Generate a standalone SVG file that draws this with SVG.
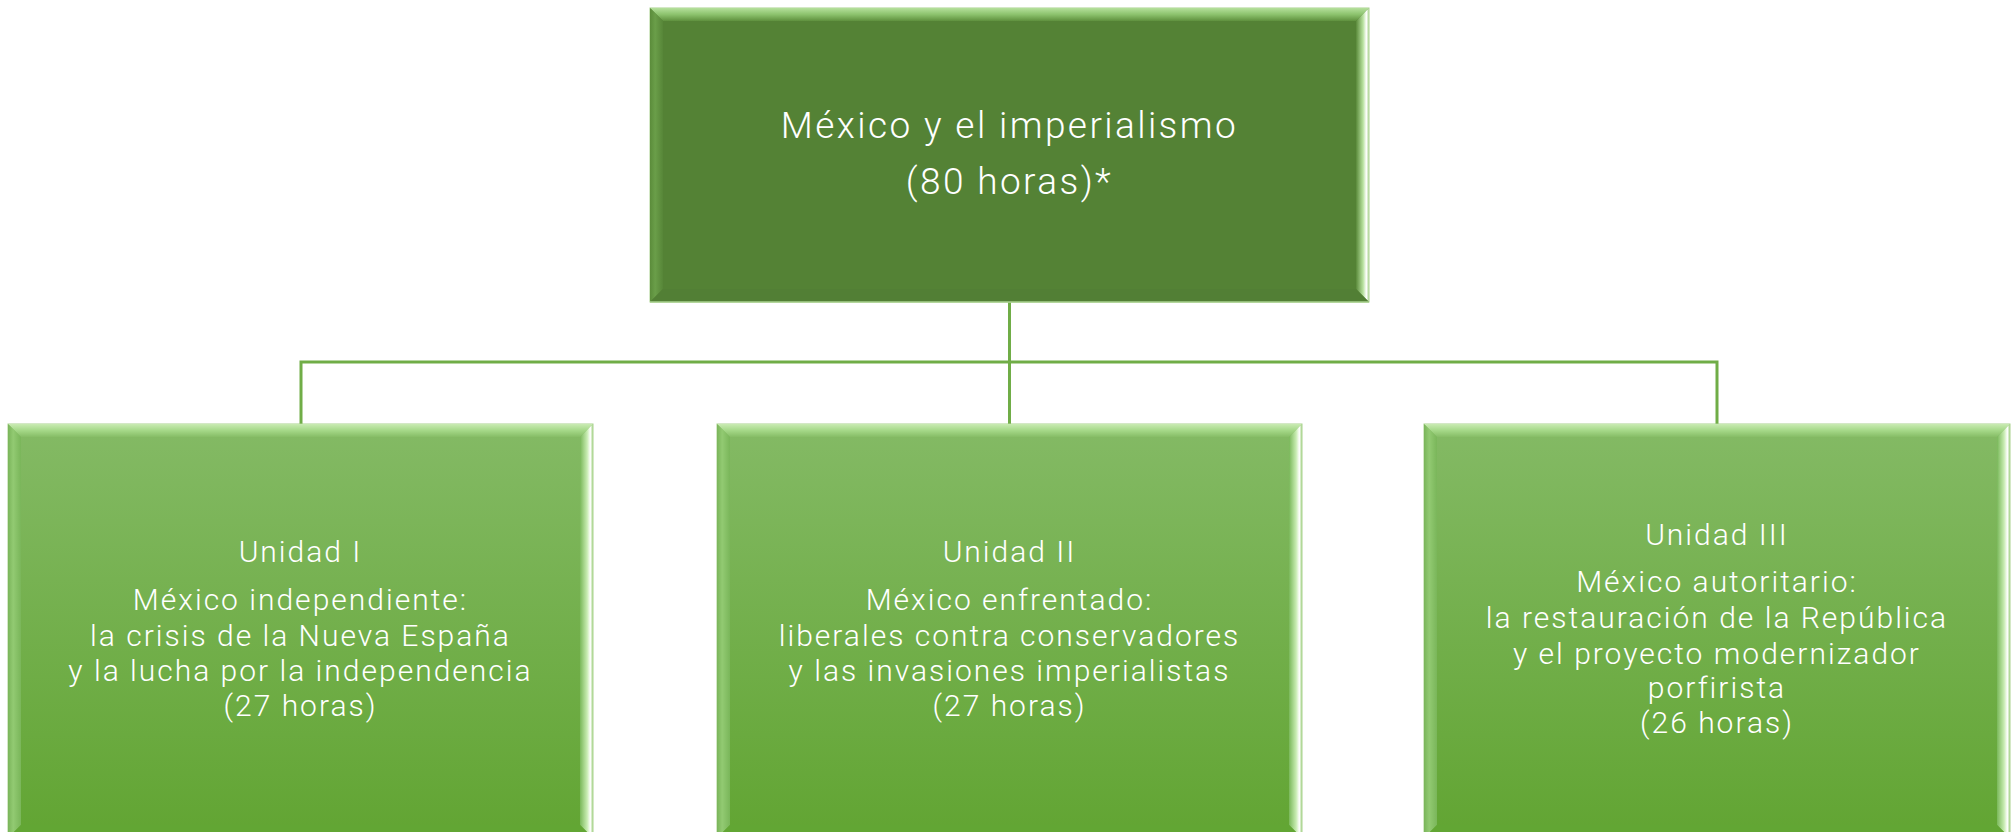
<svg xmlns="http://www.w3.org/2000/svg" width="2016" height="832" viewBox="0 0 2016 832">
<defs>
<style>
.t{font-family:Roboto,"Open Sans","Liberation Sans",sans-serif;font-weight:300;fill:#ffffff;text-anchor:middle}
.tt{font-size:37px;letter-spacing:2.4px}
.ct{font-size:30px;letter-spacing:2px}
.conn{stroke:#70ad47;stroke-width:3;fill:none}
</style>
<linearGradient id="childFill" x1="0" y1="424" x2="0" y2="832" gradientUnits="userSpaceOnUse">
<stop offset="0" stop-color="#84ba65"/>
<stop offset="1" stop-color="#62a533"/>
</linearGradient>
<linearGradient id="topBevelC" x1="0" y1="0" x2="0" y2="1">
<stop offset="0" stop-color="#c9ebb3"/>
<stop offset="0.5" stop-color="#a5d888"/>
<stop offset="1" stop-color="#86bd66"/>
</linearGradient>
<linearGradient id="rightBevelC" x1="0" y1="0" x2="1" y2="0">
<stop offset="0" stop-color="#7ab85a"/>
<stop offset="0.55" stop-color="#c8ecb2"/>
<stop offset="0.8" stop-color="#ffffff"/>
<stop offset="1" stop-color="#9fd080"/>
</linearGradient>
<linearGradient id="leftBevelC" x1="0" y1="0" x2="1" y2="0">
<stop offset="0" stop-color="#7ab55a"/>
<stop offset="0.4" stop-color="#92ca72"/>
<stop offset="1" stop-color="#7ab65a"/>
</linearGradient>
<linearGradient id="topBevelP" x1="0" y1="0" x2="0" y2="1">
<stop offset="0" stop-color="#b5e09c"/>
<stop offset="0.5" stop-color="#8cc26d"/>
<stop offset="1" stop-color="#5f913e"/>
</linearGradient>
<linearGradient id="rightBevelP" x1="0" y1="0" x2="1" y2="0">
<stop offset="0" stop-color="#5a8a3a"/>
<stop offset="0.55" stop-color="#b9e2a0"/>
<stop offset="0.8" stop-color="#ffffff"/>
<stop offset="1" stop-color="#a9d18e"/>
</linearGradient>
<linearGradient id="leftBevelP" x1="0" y1="0" x2="1" y2="0">
<stop offset="0" stop-color="#5b8c3b"/>
<stop offset="0.4" stop-color="#6a9e49"/>
<stop offset="1" stop-color="#578638"/>
</linearGradient>
</defs>
<rect width="2016" height="832" fill="#ffffff"/>

<g id="connectors">
<line class="conn" x1="1009.5" y1="302" x2="1009.5" y2="425"/>
<polyline class="conn" points="301,425 301,362 1717,362 1717,425"/>
</g>

<g id="node-root">
<rect x="650" y="8" width="719" height="294" fill="#548235" stroke="#a9d18e" stroke-width="1"/>
<polygon points="650,8 1369,8 1356,21 663,21" fill="url(#topBevelP)"/>
<polygon points="650,8 663,21 663,289 650,302" fill="url(#leftBevelP)"/>
<polygon points="1369,8 1369,302 1356,289 1356,21" fill="url(#rightBevelP)"/>
<polygon points="650,302 663,289 1356,289 1369,302" fill="#527f35"/>
<line x1="650" y1="302" x2="1369" y2="302" stroke="#a9d18e" stroke-width="1.5"/>
<text class="t tt" x="1009.5" y="138">México y el imperialismo</text>
<text class="t tt" x="1009.5" y="194">(80 horas)*</text>
</g>

<g id="node-unidad1">
<rect x="8" y="424" width="585" height="414" fill="url(#childFill)" stroke="#a9d18e" stroke-width="1"/>
<polygon points="8,424 593,424 580,437 21,437" fill="url(#topBevelC)"/>
<polygon points="8,424 21,437 21,825 8,838" fill="url(#leftBevelC)"/>
<polygon points="593,424 593,838 580,825 580,437" fill="url(#rightBevelC)"/>
<polygon points="8,838 21,825 580,825 593,838" fill="#62a634"/>
<text class="t ct" x="300.5" y="562">Unidad I</text>
<text class="t ct" x="300.5" y="610">México independiente:</text>
<text class="t ct" x="300.5" y="646">la crisis de la Nueva España</text>
<text class="t ct" x="300.5" y="681">y la lucha por la independencia</text>
<text class="t ct" x="300.5" y="716">(27 horas)</text>
</g>

<g id="node-unidad2">
<rect x="717" y="424" width="585" height="414" fill="url(#childFill)" stroke="#a9d18e" stroke-width="1"/>
<polygon points="717,424 1302,424 1289,437 730,437" fill="url(#topBevelC)"/>
<polygon points="717,424 730,437 730,825 717,838" fill="url(#leftBevelC)"/>
<polygon points="1302,424 1302,838 1289,825 1289,437" fill="url(#rightBevelC)"/>
<polygon points="717,838 730,825 1289,825 1302,838" fill="#62a634"/>
<text class="t ct" x="1009.5" y="562">Unidad II</text>
<text class="t ct" x="1009.5" y="610">México enfrentado:</text>
<text class="t ct" x="1009.5" y="646">liberales contra conservadores</text>
<text class="t ct" x="1009.5" y="681">y las invasiones imperialistas</text>
<text class="t ct" x="1009.5" y="716">(27 horas)</text>
</g>

<g id="node-unidad3">
<rect x="1424" y="424" width="586" height="414" fill="url(#childFill)" stroke="#a9d18e" stroke-width="1"/>
<polygon points="1424,424 2010,424 1997,437 1437,437" fill="url(#topBevelC)"/>
<polygon points="1424,424 1437,437 1437,825 1424,838" fill="url(#leftBevelC)"/>
<polygon points="2010,424 2010,838 1997,825 1997,437" fill="url(#rightBevelC)"/>
<polygon points="1424,838 1437,825 1997,825 2010,838" fill="#62a634"/>
<text class="t ct" x="1717" y="545">Unidad III</text>
<text class="t ct" x="1717" y="592">México autoritario:</text>
<text class="t ct" x="1717" y="628">la restauración de la República</text>
<text class="t ct" x="1717" y="664">y el proyecto modernizador</text>
<text class="t ct" x="1717" y="698">porfirista</text>
<text class="t ct" x="1717" y="733">(26 horas)</text>
</g>
</svg>
